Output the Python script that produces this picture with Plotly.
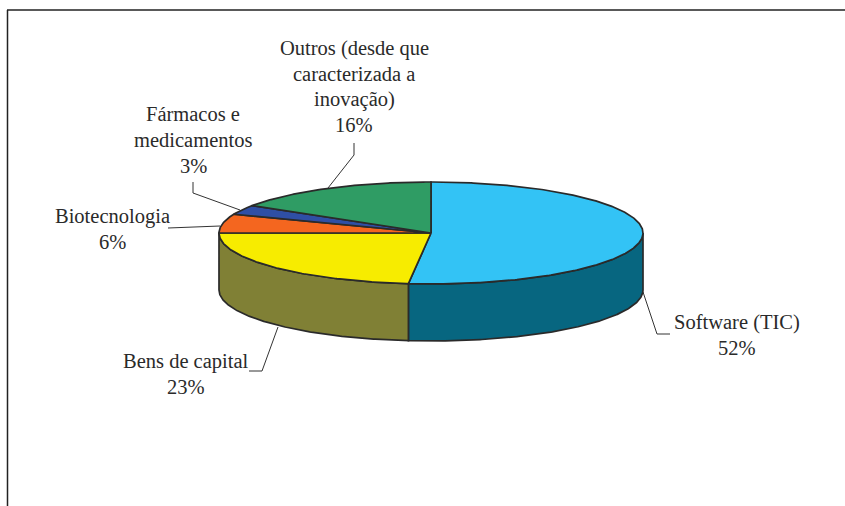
import numpy as np
import plotly.graph_objects as go

# shares in pie order, clockwise from 12 o'clock
names = ["Software (TIC)", "Bens de capital", "Biotecnologia", "Fármacos e medicamentos", "Outros"]
shares = [51.7, 23.3, 6.0, 3.0, 16.0]
top_colors = ["#33C3F5", "#F7EC00", "#F4661F", "#2F4FA5", "#2F9C64"]
wall_colors = ["#076680", "#808035", "#8A3A12", "#1B2D5E", "#1A5A39"]

label_lines = [
    ["Software (TIC)", "52%"],
    ["Bens de capital", "23%"],
    ["Biotecnologia", "6%"],
    ["Fármacos e", "medicamentos", "3%"],
    ["Outros (desde que", "caracterizada a", "inovação)", "16%"],
]

# layout only, in page pixels
CX, CY, RX, RY, DEPTH = 431, 233, 212, 51, 57
EDGE = "#2A2A2A"
LABEL_POS = [(737, 322), (186, 361), (112, 216), (193, 114), (354, 48)]
LINE_STEP = 25.8
LEADERS = [
    ([643, 657, 670], [292, 334, 334]),
    ([278, 262, 249], [327, 371, 371]),
    ([168, 220], [228, 226]),
    ([193, 193, 240], [182, 193, 210]),
    ([354, 354, 328], [143, 155, 188]),
]


def arc(a0, a1):
    # angles in degrees, clockwise from the top of the ellipse
    t = np.radians(np.linspace(a0, a1, max(int(abs(a1 - a0)) * 2, 2) + 1))
    return CX + RX * np.sin(t), CY - RY * np.cos(t)


fig = go.Figure()

edges = np.cumsum([0] + shares) * 3.6

# outer wall, only the part of the rim that faces the viewer
for i in range(len(shares)):
    a0 = max(edges[i], 90)
    a1 = min(edges[i + 1], 270)
    if a1 <= a0:
        continue
    x, y = arc(a0, a1)
    fig.add_trace(
        go.Scatter(
            x=np.concatenate([x, x[::-1], x[:1]]),
            y=np.concatenate([y, y[::-1] + DEPTH, y[:1]]),
            mode="lines",
            fill="toself",
            fillcolor=wall_colors[i],
            line=dict(color=EDGE, width=1.7),
            name=names[i],
            hoverinfo="skip",
        )
    )

# top face
for i in range(len(shares)):
    x, y = arc(edges[i], edges[i + 1])
    fig.add_trace(
        go.Scatter(
            x=np.concatenate([[CX], x, [CX]]),
            y=np.concatenate([[CY], y, [CY]]),
            mode="lines",
            fill="toself",
            fillcolor=top_colors[i],
            line=dict(color=EDGE, width=1.7),
            name=names[i],
            hovertemplate=f"{names[i]}: {shares[i]:.0f}%<extra></extra>",
        )
    )

for lx, ly in LEADERS:
    fig.add_trace(
        go.Scatter(x=lx, y=ly, mode="lines", line=dict(color="#333333", width=1), hoverinfo="skip")
    )

for lines, (px, py) in zip(label_lines, LABEL_POS):
    for j, text in enumerate(lines):
        fig.add_annotation(
            x=px,
            y=py + j * LINE_STEP,
            text=text,
            showarrow=False,
            xanchor="center",
            yanchor="middle",
            font=dict(family="Liberation Serif", size=20.5, color="#2A2A2A"),
        )

# chart frame, open on the right and at the bottom
fig.add_shape(type="line", x0=7, x1=845, y0=10, y1=10, line=dict(color="#222222", width=1.5))
fig.add_shape(type="line", x0=7.5, x1=7.5, y0=10, y1=506, line=dict(color="#222222", width=1.5))

fig.update_xaxes(range=[0, 845], visible=False)
fig.update_yaxes(range=[506, 0], visible=False)
fig.update_layout(
    width=845,
    height=506,
    margin=dict(l=0, r=0, t=0, b=0),
    showlegend=False,
    paper_bgcolor="white",
    plot_bgcolor="white",
)

fig.write_html(
    "out.html",
    config=dict(displayModeBar=False),
    post_script="document.body.style.margin = '0';",
)
